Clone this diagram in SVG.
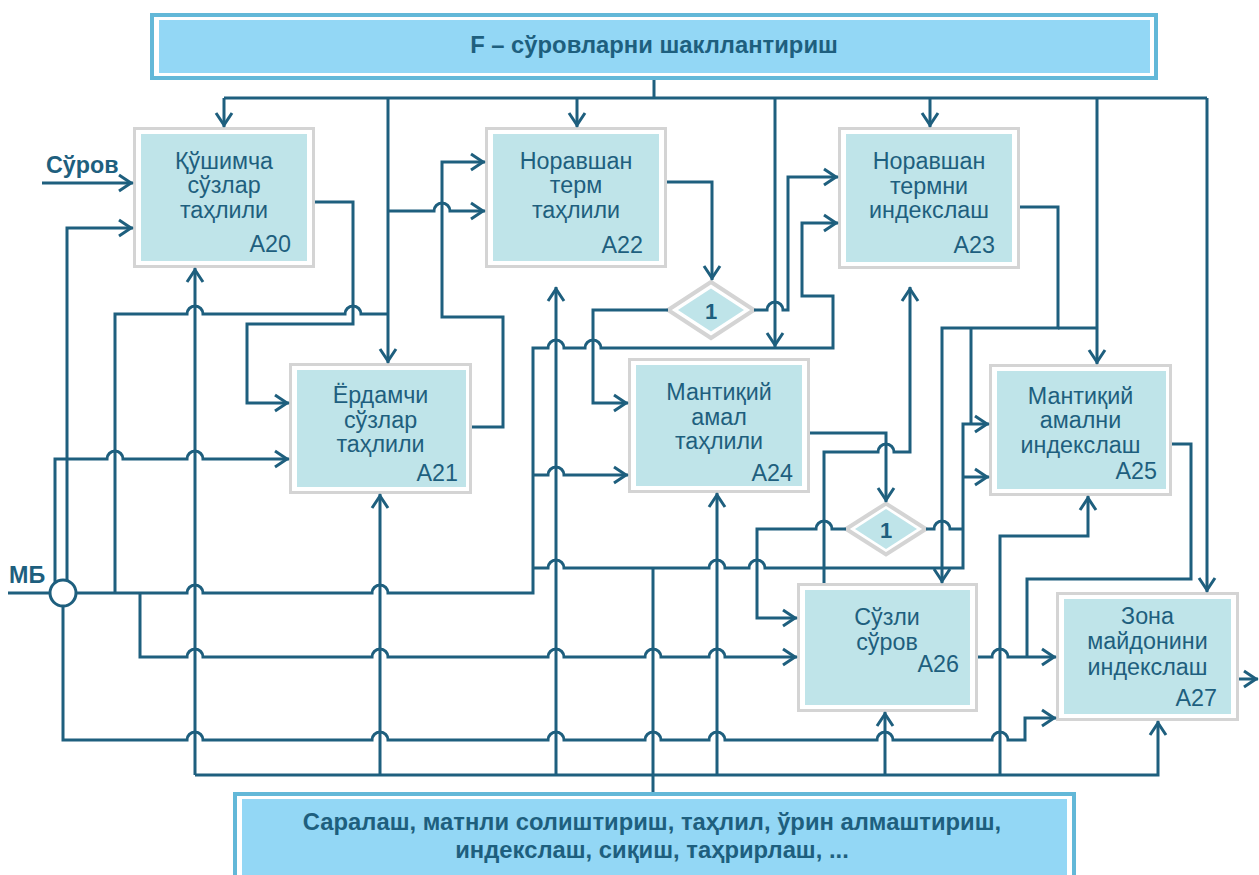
<svg xmlns="http://www.w3.org/2000/svg" width="1259" height="875" viewBox="0 0 1259 875">
<defs>
<marker id="ar" markerUnits="userSpaceOnUse" markerWidth="18" markerHeight="20" viewBox="-16 -10 18 20" refX="0" refY="0" orient="auto"><path d="M-14,-8 L-2,0 L-14,8" fill="none" stroke="#1e5f7e" stroke-width="3"/></marker>
<style>
.c{fill:none;stroke:#1e5f7e;stroke-width:3}
.a{marker-end:url(#ar)}
.bo{fill:#fff;stroke:#d4d4d4;stroke-width:3}
.do{fill:#fff;stroke:#d4d4d4;stroke-width:4}
.bi{fill:#bfe4e9}
.t{font-family:"Liberation Sans",Arial,Helvetica,sans-serif;font-size:23.3px;fill:#1e5f7e;text-anchor:middle}
.e{text-anchor:end}
.s{text-anchor:start}
.b{font-weight:bold}
.big{font-size:23.8px}
.hb{fill:#fff;stroke:#63b8d8;stroke-width:4}
.hf{fill:#93d7f5}
</style>
</defs>
<rect width="1259" height="875" fill="#fff"/>

<g id="control-box">
<rect class="hb" x="152" y="15" width="1004" height="63"/>
<rect class="hf" x="159" y="20" width="991" height="53"/>
<text class="t b big" x="654" y="53">F – сўровларни шакллантириш</text>
</g>

<g id="mechanism-box">
<rect class="hb" x="235" y="794" width="839" height="100"/>
<rect class="hf" x="242" y="799" width="825" height="90"/>
<text class="t b big" x="652" y="830">Саралаш, матнли солиштириш, таҳлил, ўрин алмаштириш,</text>
<text class="t b big" x="652" y="858">индекслаш, сиқиш, таҳрирлаш, ...</text>
</g>

<g id="input-labels">
<text class="t b s" x="46" y="173">Сўров</text>
<text class="t b s" x="9" y="583">МБ</text>
</g>

<g id="A20">
<rect class="bo" x="134.5" y="128.5" width="179" height="138"/>
<rect class="bi" x="141" y="134" width="166" height="127"/>
<text class="t" x="224" y="169">Қўшимча</text>
<text class="t" x="224" y="193">сўзлар</text>
<text class="t" x="224" y="218">таҳлили</text>
<text class="t e" x="291" y="252">A20</text>
</g>

<g id="A22">
<rect class="bo" x="486.5" y="128.5" width="179" height="138"/>
<rect class="bi" x="493" y="134" width="166" height="127"/>
<text class="t" x="576" y="169">Норавшан</text>
<text class="t" x="576" y="193">терм</text>
<text class="t" x="576" y="218">таҳлили</text>
<text class="t e" x="643" y="253">A22</text>
</g>

<g id="A23">
<rect class="bo" x="839.5" y="128.5" width="179" height="139"/>
<rect class="bi" x="846" y="134" width="166" height="128"/>
<text class="t" x="929" y="169">Норавшан</text>
<text class="t" x="929" y="194">термни</text>
<text class="t" x="929" y="218">индекслаш</text>
<text class="t e" x="995" y="253">A23</text>
</g>

<g id="A21">
<rect class="bo" x="290.5" y="364.5" width="180" height="128"/>
<rect class="bi" x="297" y="370" width="169" height="117"/>
<text class="t" x="380.5" y="403">Ёрдамчи</text>
<text class="t" x="380.5" y="428">сўзлар</text>
<text class="t" x="380.5" y="452">таҳлили</text>
<text class="t e" x="458" y="481">A21</text>
</g>

<g id="A24">
<rect class="bo" x="629.5" y="359.5" width="179" height="132"/>
<rect class="bi" x="636" y="365" width="166" height="121"/>
<text class="t" x="719" y="400">Мантиқий</text>
<text class="t" x="719" y="425">амал</text>
<text class="t" x="719" y="449">таҳлили</text>
<text class="t e" x="793" y="481">A24</text>
</g>

<g id="A25">
<rect class="bo" x="990.5" y="365.5" width="180" height="129"/>
<rect class="bi" x="997" y="371" width="169" height="118"/>
<text class="t" x="1080.5" y="404">Мантиқий</text>
<text class="t" x="1080.5" y="428">амални</text>
<text class="t" x="1080.5" y="453">индекслаш</text>
<text class="t e" x="1157" y="479">A25</text>
</g>

<g id="A26">
<rect class="bo" x="798.5" y="584.5" width="178" height="126"/>
<rect class="bi" x="805" y="590" width="165" height="115"/>
<text class="t" x="887" y="625">Сўзли</text>
<text class="t" x="887" y="650">сўров</text>
<text class="t e" x="959" y="672">A26</text>
</g>

<g id="A27">
<rect class="bo" x="1057.5" y="593.5" width="180" height="126"/>
<rect class="bi" x="1064" y="599" width="167" height="115"/>
<text class="t" x="1147.5" y="624">Зона</text>
<text class="t" x="1147.5" y="649">майдонини</text>
<text class="t" x="1147.5" y="675">индекслаш</text>
<text class="t e" x="1217" y="706">A27</text>
</g>

<g id="J1">
<polygon class="do" points="668,310 711,282 754,310 711,338"/>
<polygon class="bi" points="678,310 711,288.5 744,310 711,331.5"/>
<text class="t b" x="711" y="318.5" style="font-size:22px">1</text>
</g>

<g id="J2">
<polygon class="do" points="846,529 886,503.5 926,529 886,554.5"/>
<polygon class="bi" points="855,529 886,509 917,529 886,549"/>
<text class="t b" x="886" y="537.5" style="font-size:22px">1</text>
</g>

<g id="MB-node">
<circle cx="63" cy="593" r="13" fill="#fff" stroke="#1e5f7e" stroke-width="3"/>
</g>

<g id="connectors">
<path class="c" d="M654,80 V98"/>
<path class="c" d="M224,98 H1207"/>
<path class="c a" d="M224,98 V127"/>
<path class="c a" d="M388,98 V363"/>
<path class="c a" d="M577,98 V127"/>
<path class="c a" d="M775,98 V347"/>
<path class="c a" d="M930,98 V127"/>
<path class="c a" d="M1097,98 V364"/>
<path class="c a" d="M1207,98 V592"/>
<path class="c a" d="M388,211 H434 a8,8 0 0 1 16,0 H485"/>
<path class="c a" d="M42,183 H133"/>
<path class="c" d="M8,593 H50"/>
<path class="c a" d="M76,593 H187 a8,8 0 0 1 16,0 H372 a8,8 0 0 1 16,0 H533 V348 H548 a8,8 0 0 1 16,0 H585 a8,8 0 0 1 16,0 H833 V296 H802 V223 H838"/>
<path class="c a" d="M533,475 H548 a8,8 0 0 1 16,0 H628"/>
<path class="c a" d="M533,568 H548 a8,8 0 0 1 16,0 H709 a8,8 0 0 1 16,0 H749 a8,8 0 0 1 16,0 H963 V424 H989"/>
<path class="c a" d="M963,477 H989"/>
<path class="c" d="M115,593 V314 H187 a8,8 0 0 1 16,0 H345 a8,8 0 0 1 16,0 H388"/>
<path class="c a" d="M140,593 V657 H187 a8,8 0 0 1 16,0 H372 a8,8 0 0 1 16,0 H548 a8,8 0 0 1 16,0 H645 a8,8 0 0 1 16,0 H709 a8,8 0 0 1 16,0 H797"/>
<path class="c a" d="M63,606 V740 H187 a8,8 0 0 1 16,0 H372 a8,8 0 0 1 16,0 H548 a8,8 0 0 1 16,0 H645 a8,8 0 0 1 16,0 H709 a8,8 0 0 1 16,0 H877 a8,8 0 0 1 16,0 H992 a8,8 0 0 1 16,0 H1025 V718 H1056"/>
<path class="c a" d="M67,581 V228 H133"/>
<path class="c a" d="M55,583 V459 H107 a8,8 0 0 1 16,0 H187 a8,8 0 0 1 16,0 H289"/>
<path class="c a" d="M315,202 H353 V324 H247 V403 H289"/>
<path class="c a" d="M472,427 H503 V317 H442 V162 H485"/>
<path class="c a" d="M667,182 H712 V280"/>
<path class="c a" d="M668,310 H593 V403 H628"/>
<path class="c a" d="M754,310 H767 a8,8 0 0 1 16,0 H788 V177 H838"/>
<path class="c a" d="M1020,207 H1058 V328 H942 V583"/>
<path class="c" d="M1058,328 H1097"/>
<path class="c" d="M971,328 V424"/>
<path class="c a" d="M810,433 H886 V502"/>
<path class="c a" d="M846,529 H832 a8,8 0 0 0 -16,0 H757 V618 H797"/>
<path class="c" d="M926,529 H934 a8,8 0 0 1 16,0 H963"/>
<path class="c a" d="M824,583 V452 H878 a8,8 0 0 1 16,0 H910 V287"/>
<path class="c" d="M1172,444 H1191 V579 H1027 V657"/>
<path class="c a" d="M978,657 H992 a8,8 0 0 1 16,0 H1056"/>
<path class="c" d="M653,792 V568"/>
<path class="c a" d="M195,775 H1158 V721"/>
<path class="c a" d="M195,775 V268"/>
<path class="c a" d="M380,775 V494"/>
<path class="c a" d="M556,775 V287"/>
<path class="c a" d="M717,775 V493"/>
<path class="c a" d="M885,775 V712"/>
<path class="c a" d="M1000,775 V536 H1088 V496"/>
<path class="c a" d="M1239,679 H1258"/>
</g>
</svg>
